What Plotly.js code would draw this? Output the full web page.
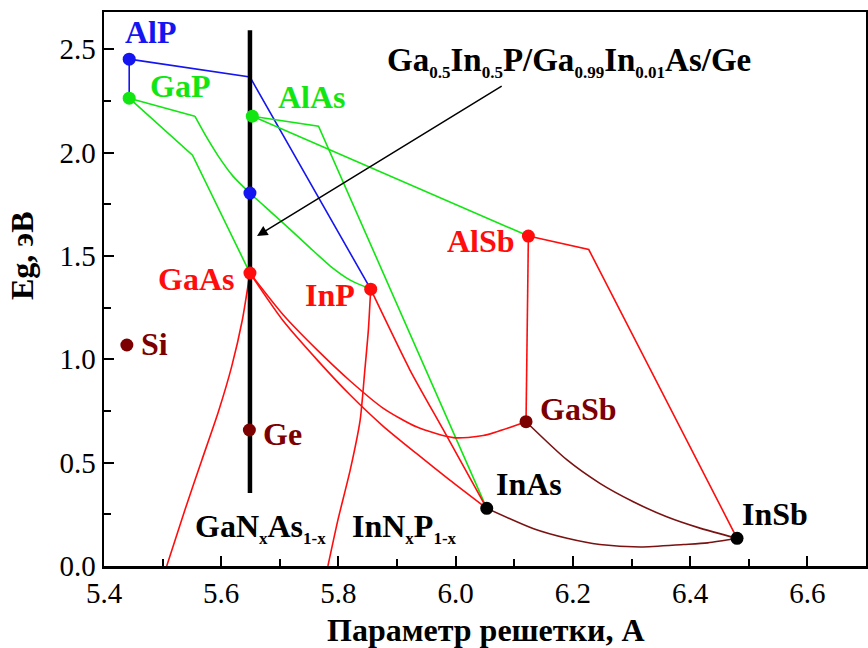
<!DOCTYPE html>
<html>
<head>
<meta charset="utf-8">
<script src="https://cdn.plot.ly/plotly-3.0.1.min.js"></script>
<style>html,body{margin:0;padding:0;background:#fff}</style>
</head>
<body>
<div id="chart" style="width:868px;height:648px"></div>
<script>
// Binary semiconductors: lattice constant (Å) and band gap (eV)
const binNames = ['AlP', 'GaP', 'AlAs', 'GaAs', 'InP', 'AlSb', 'GaSb', 'InAs', 'InSb', 'Si', 'Ge'];
const binA     = [5.443, 5.443, 5.653, 5.649, 5.855, 6.124, 6.120, 6.053, 6.480, 5.439, 5.648];
const binEg    = [2.452, 2.263, 2.176, 1.417, 1.339, 1.596, 0.698, 0.279, 0.134, 1.069, 0.658];

// Ga0.5In0.5P point on the GaAs lattice constant
const gaInPA = [5.649];
const gaInPEg = [1.804];

// Ternary alloys (lattice constant, band gap)
const alGaP_a = [5.443, 5.443];               const alGaP_eg = [2.452, 2.263];
const alInP_a = [5.443, 5.649, 5.855];        const alInP_eg = [2.452, 2.366, 1.339];
const gaInP_a = [5.443, 5.555];               const gaInP_eg = [2.263, 2.176];
const gaInP2_a = [5.555, 5.572, 5.595, 5.620, 5.649, 5.683, 5.717, 5.752, 5.786, 5.820, 5.855];
const gaInP2_eg = [2.176, 2.089, 1.983, 1.886, 1.804, 1.717, 1.630, 1.538, 1.451, 1.383, 1.339];
const gaAsP_a = [5.443, 5.551, 5.649];        const gaAsP_eg = [2.263, 1.987, 1.417];
const alInAs_a = [5.653, 5.766, 6.053];       const alInAs_eg = [2.176, 2.128, 0.279];
const alAsSb_a = [5.653, 6.124];              const alAsSb_eg = [2.176, 1.596];
const gaNAs_a = [5.649, 5.636, 5.618, 5.595, 5.567, 5.538, 5.507];
const gaNAs_eg = [1.417, 1.190, 0.967, 0.745, 0.513, 0.271, 0.0];
const inNP_a = [5.855, 5.851, 5.845, 5.837, 5.820, 5.799, 5.782];
const inNP_eg = [1.339, 1.141, 0.948, 0.706, 0.464, 0.222, 0.0];
const gaAsSb_a = [5.649, 5.706, 5.764, 5.820, 5.876, 5.934, 5.996, 6.047, 6.120];
const gaAsSb_eg = [1.417, 1.214, 1.044, 0.895, 0.764, 0.672, 0.621, 0.631, 0.698];
const gaInAs_a = [5.649, 5.706, 5.764, 5.820, 5.876, 5.934, 5.990, 6.053];
const gaInAs_eg = [1.417, 1.185, 0.996, 0.827, 0.677, 0.542, 0.416, 0.279];
const inAsP_a = [5.855, 5.922, 5.979, 6.053];  const inAsP_eg = [1.339, 0.948, 0.658, 0.279];
const alGaSb_a = [6.124, 6.120];              const alGaSb_eg = [1.596, 0.698];
const alInSb_a = [6.124, 6.227, 6.480];       const alInSb_eg = [1.596, 1.531, 0.134];
const gaInSb_a = [6.120, 6.190, 6.246, 6.303, 6.360, 6.418, 6.480];
const gaInSb_eg = [0.698, 0.513, 0.400, 0.311, 0.238, 0.182, 0.134];
const inAsSb_a = [6.053, 6.133, 6.190, 6.246, 6.315, 6.389, 6.430, 6.480];
const inAsSb_eg = [0.279, 0.180, 0.134, 0.104, 0.092, 0.104, 0.112, 0.134];

// GaAs/Ge lattice-matched line
const matchA = [5.649, 5.649];
const matchEg = [0.353, 2.592];

// tick values and labels
const aTicks = [5.4, 5.6, 5.8, 6.0, 6.2, 6.4, 6.6];
const aTickText = ['5.4', '5.6', '5.8', '6.0', '6.2', '6.4', '6.6'];
const egTicks = [0, 0.5, 1.0, 1.5, 2.0, 2.5];
const egTickText = ['0.0', '0.5', '1.0', '1.5', '2.0', '2.5'];

const BLUE = '#1515f2', GREEN = '#12e612', RED = '#ff0d0d', DARK = '#7d0000', BLACK = '#000000';
const SERIF = 'Liberation Serif';

const pointColor = {
  AlP: BLUE, GaP: GREEN, AlAs: GREEN, GaAs: RED, InP: RED, AlSb: RED,
  GaSb: DARK, Si: DARK, Ge: DARK, InAs: BLACK, InSb: BLACK
};
// label offsets from each point, px (dx right, dy up)
const labelShift = {
  AlP: [22, 27], GaP: [51, 12], AlAs: [60, 19], GaAs: [-54, -6], InP: [-41, -6],
  AlSb: [-47, -5], GaSb: [52, 13], Si: [28, 1], Ge: [33, -4], InAs: [42, 24], InSb: [38, 24]
};

function curve(x, y, color, smooth) {
  return {
    x: x, y: y, mode: 'lines', hoverinfo: 'skip', showlegend: false,
    line: {color: color, width: 1.6, shape: smooth ? 'spline' : 'linear', smoothing: smooth || 0}
  };
}

const traces = [
  curve(alGaP_a, alGaP_eg, BLUE),
  curve(alInP_a, alInP_eg, BLUE),
  curve(gaInP_a, gaInP_eg, GREEN),
  curve(gaInP2_a, gaInP2_eg, GREEN, 0.5),
  curve(gaAsP_a, gaAsP_eg, GREEN),
  curve(alInAs_a, alInAs_eg, GREEN),
  curve(alAsSb_a, alAsSb_eg, GREEN),
  curve(gaNAs_a, gaNAs_eg, RED, 0.6),
  curve(inNP_a, inNP_eg, RED, 0.6),
  curve(gaAsSb_a, gaAsSb_eg, RED, 0.7),
  curve(gaInAs_a, gaInAs_eg, RED, 0.7),
  curve(inAsP_a, inAsP_eg, RED, 0.6),
  curve(alGaSb_a, alGaSb_eg, RED),
  curve(alInSb_a, alInSb_eg, RED),
  curve(gaInSb_a, gaInSb_eg, '#7a1212', 0.7),
  curve(inAsSb_a, inAsSb_eg, '#7a1212', 0.7),
  {x: matchA, y: matchEg, mode: 'lines', hoverinfo: 'skip', showlegend: false,
   line: {color: BLACK, width: 4.5}},
  {x: binA, y: binEg, mode: 'markers', hoverinfo: 'skip', showlegend: false,
   marker: {size: 13, color: binNames.map(n => pointColor[n]), line: {width: 0}}},
  {x: gaInPA, y: gaInPEg, mode: 'markers', hoverinfo: 'skip', showlegend: false,
   marker: {size: 13, color: BLUE, line: {width: 0}}}
];

const annotations = binNames.map(n => {
  const i = binNames.indexOf(n);
  return {
    x: binA[i], y: binEg[i], xref: 'x', yref: 'y', showarrow: false,
    text: '<b>' + n + '</b>', xanchor: 'center', yanchor: 'middle',
    xshift: labelShift[n][0], yshift: labelShift[n][1],
    font: {family: SERIF, size: 32, color: pointColor[n]}
  };
});

const sub = s => '<sub><span style="font-size:17px">' + s + '</span></sub>';

annotations.push(
  {x: 5.6611, y: 1.596, ax: 6.081, ay: 2.326, xref: 'x', yref: 'y', axref: 'x', ayref: 'y',
   showarrow: true, arrowhead: 2, arrowsize: 1.4, arrowwidth: 1.5, arrowcolor: BLACK, text: ''},
  {x: 5.8795, y: 2.437, xref: 'x', yref: 'y', showarrow: false, xanchor: 'left', yanchor: 'middle',
   text: '<b>Ga' + sub('0.5') + 'In' + sub('0.5') + 'P/Ga' + sub('0.99') + 'In' + sub('0.01') + 'As/Ge</b>',
   font: {family: SERIF, size: 33, color: BLACK}},
  {x: 5.552, y: 0.186, xref: 'x', yref: 'y', showarrow: false, xanchor: 'left', yanchor: 'middle',
   text: '<b>GaN' + sub('x') + 'As' + sub('1-x') + '</b>',
   font: {family: SERIF, size: 32, color: BLACK}},
  {x: 5.8198, y: 0.186, xref: 'x', yref: 'y', showarrow: false, xanchor: 'left', yanchor: 'middle',
   text: '<b>InN' + sub('x') + 'P' + sub('1-x') + '</b>',
   font: {family: SERIF, size: 32, color: BLACK}},
  {x: -0.1076, y: 0.5596, xref: 'paper', yref: 'paper', showarrow: false, textangle: -90,
   xanchor: 'center', yanchor: 'middle', text: '<b>Eg, эВ</b>',
   font: {family: SERIF, size: 32, color: BLACK}},
  {x: 0.501, y: -0.1155, xref: 'paper', yref: 'paper', showarrow: false,
   xanchor: 'center', yanchor: 'middle', text: '<b>Параметр решетки, А</b>',
   font: {family: SERIF, size: 32, color: BLACK}}
);

// tick labels carry their font explicitly
const serifText = t => '<span style="font-family:Liberation Serif,serif">' + t + '</span>';

const layout = {
  width: 868, height: 648,
  margin: {l: 104, r: 2, t: 12, b: 82},
  paper_bgcolor: '#ffffff', plot_bgcolor: '#ffffff',
  showlegend: false,
  font: {family: SERIF, color: BLACK},
  xaxis: {
    range: [5.4, 6.7], tickmode: 'array', tickvals: aTicks, ticktext: aTickText.map(serifText),
    showgrid: false, zeroline: false, showline: true, linecolor: BLACK, linewidth: 2.5, mirror: true,
    ticks: 'inside', ticklen: 10, tickwidth: 2, tickcolor: BLACK,
    tickfont: {family: SERIF, size: 29},
    minor: {tickmode: 'linear', tick0: 5.4, dtick: 0.1, ticks: 'inside', ticklen: 7, tickwidth: 2, tickcolor: BLACK}
  },
  yaxis: {
    range: [0, 2.68], tickmode: 'array', tickvals: egTicks, ticktext: egTickText.map(serifText),
    showgrid: false, zeroline: false, showline: true, linecolor: BLACK, linewidth: 2.5, mirror: true,
    ticks: 'inside', ticklen: 10, tickwidth: 2, tickcolor: BLACK,
    tickfont: {family: SERIF, size: 29},
    minor: {tickmode: 'linear', tick0: 0, dtick: 0.25, ticks: 'inside', ticklen: 7, tickwidth: 2, tickcolor: BLACK}
  },
  annotations: annotations
};

Plotly.newPlot('chart', traces, layout, {staticPlot: true, displayModeBar: false});
</script>
</body>
</html>
